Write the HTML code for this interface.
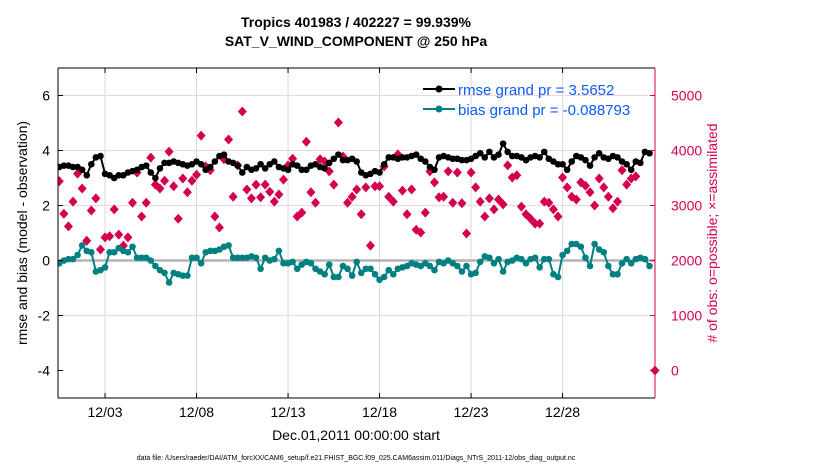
<!DOCTYPE html>
<html><head><meta charset="utf-8"><style>
body{margin:0;background:#fff;width:830px;height:470px;overflow:hidden;font-family:"Liberation Sans",sans-serif}
</style></head><body>
<svg id="c" width="830" height="470" xmlns="http://www.w3.org/2000/svg" font-family="Liberation Sans, sans-serif">
<text x="356" y="27" text-anchor="middle" font-size="14" font-weight="bold">Tropics 401983 / 402227 = 99.939%</text>
<text x="356" y="46" text-anchor="middle" font-size="14" font-weight="bold">SAT_V_WIND_COMPONENT @ 250 hPa</text>
<g id="grid"></g>
<g id="marks"></g>
<g id="axes"></g>
<text transform="translate(27,233) rotate(-90)" text-anchor="middle" font-size="14">rmse and bias (model - observation)</text>
<text transform="translate(717,233) rotate(-90)" text-anchor="middle" font-size="14" fill="#d4004f"># of obs: o=possible; ×=assimilated</text>
<text x="356" y="440" text-anchor="middle" font-size="14">Dec.01,2011 00:00:00 start</text>
<text x="356" y="460" text-anchor="middle" font-size="7">data file: /Users/raeder/DAI/ATM_forcXX/CAM6_setup/f.e21.FHIST_BGC.f09_025.CAM6assim.011/Diags_NTrS_2011-12/obs_diag_output.nc</text>
<g>
<line x1="423" y1="89" x2="455" y2="89" stroke="#000" stroke-width="2"/>
<circle cx="439" cy="89" r="3.5" fill="#000"/>
<text x="458" y="95" font-size="15" fill="#0a5cf5">rmse grand pr = 3.5652</text>
<line x1="423" y1="109" x2="455" y2="109" stroke="#008080" stroke-width="2"/>
<circle cx="439" cy="109" r="3.5" fill="#008080"/>
<text x="458" y="115" font-size="15" fill="#0a5cf5">bias grand pr = -0.088793</text>
</g>
</svg>
<script>
const rmse=[3.4,3.45,3.45,3.4,3.4,3.3,3.1,3.5,3.75,3.8,3.15,3.1,3.0,3.1,3.1,3.2,3.25,3.3,3.4,3.45,3.2,3.0,3.35,3.55,3.55,3.6,3.55,3.5,3.45,3.5,3.6,3.5,3.3,3.4,3.6,3.8,3.85,3.6,3.55,3.45,3.2,3.4,3.3,3.35,3.5,
3.35,3.5,3.6,3.4,3.35,3.3,3.5,3.45,3.3,3.3,3.45,3.5,3.4,3.35,3.55,3.7,3.85,3.65,3.65,3.7,3.6,3.2,3.1,3.15,3.25,3.2,3.5,3.75,3.75,3.7,3.75,3.75,3.8,3.85,3.7,3.6,3.4,3.3,3.75,3.8,3.75,3.7,3.7,3.65,
3.65,3.7,3.8,3.9,3.75,3.95,3.75,3.85,4.25,3.95,3.8,3.8,3.75,3.65,3.75,3.8,3.75,3.95,3.7,3.6,3.5,3.5,3.3,3.6,3.8,3.75,3.65,3.45,3.75,3.9,3.75,3.7,3.8,3.75,3.6,3.5,3.3,3.6,3.55,3.95,3.9];
const bias=[-0.1,0,0.05,0.05,0.2,0.55,0.35,0.3,-0.4,-0.35,-0.25,0.3,0.3,0.45,0.35,0.3,0.5,0.1,0.1,0.1,0,-0.2,-0.35,-0.45,-0.8,-0.45,-0.5,-0.55,-0.55,0.1,0.1,-0.1,0.3,0.35,0.35,0.4,0.5,0.55,0.1,0.1,0.1,0.1,0.15,0.1,-0.3,
0.1,0,0.05,0.35,-0.1,-0.1,-0.05,-0.3,-0.15,-0.05,-0.1,-0.3,-0.4,-0.5,-0.15,-0.6,-0.6,-0.2,-0.3,-0.55,-0.05,-0.45,-0.3,-0.3,-0.5,-0.7,-0.6,-0.35,-0.5,-0.3,-0.25,-0.2,-0.1,-0.15,-0.2,-0.1,-0.2,-0.35,-0.05,-0.1,0,-0.1,-0.2,-0.4,
-0.2,-0.5,-0.45,-0.05,0.15,0.1,-0.1,0.05,-0.4,-0.05,0,0.1,0.05,-0.1,0.05,0.1,-0.25,0.05,0.05,-0.5,-0.6,0.2,0.35,0.6,0.6,0.5,0.1,-0.2,0.6,0.4,0.3,-0.2,-0.5,-0.5,-0.1,0.05,-0.1,0.05,0.1,0.05,-0.2];
const obsUsed=[3440,2850,2620,3070,3580,3310,2360,2910,3130,2200,2420,2440,2930,2470,2270,2420,3050,3600,2800,3050,3870,3380,3310,3450,3980,3350,2760,3490,3240,3450,3560,4270,3710,3640,2800,2600,3840,4200,3160,3730,4710,3290,3130,3380,
3150,3380,3250,3070,3200,3470,3730,3850,2800,2870,4160,3240,3050,3840,3800,3620,3380,4510,3890,3050,3160,3290,2840,3330,2270,3350,3350,3710,3160,3070,3930,3270,2840,3290,2560,2510,2870,3620,3420,3150,3160,3620,3050,
3600,3040,2490,3600,3330,3070,2800,3130,2930,3110,3020,3730,3510,3550,2980,2840,2760,2670,2670,3070,3050,2930,2800,3510,3330,3160,3110,3420,3360,3240,3000,3490,3330,3160,2950,3070,3640,3380,3490,3530];
const leftTicks=[-4,-2,0,2,4,6];
const rightTicks=[0,1000,2000,3000,4000,5000];
const xTickDays=[2,7,12,17,22,27];
const xTickLabels=["12/03","12/08","12/13","12/18","12/23","12/28"];
const L=58,R=655,T=68,B=398;
const yL=v=>B-(v+5)/12*(B-T);
const yR=v=>B-(v+500)/6000*(B-T);
const xD=t=>L+(t+0.57)/(32.62)*(R-L);
const tOf=i=>-0.5+i*0.25;
const NS="http://www.w3.org/2000/svg";
function mk(p,tag,a){const e=document.createElementNS(NS,tag);for(const k in a)e.setAttribute(k,a[k]);p.appendChild(e);return e;}
const g=document.getElementById('grid'),m=document.getElementById('marks'),ax=document.getElementById('axes');
xTickDays.forEach((d,i)=>{const x=xD(d);
 const l=mk(g,'line',{x1:x,x2:x,y1:T,y2:B,stroke:'#d9d9d9','stroke-width':1});
 
 
 mk(ax,'line',{x1:x,x2:x,y1:B,y2:B-5,stroke:'#000'});
 mk(ax,'line',{x1:x,x2:x,y1:T,y2:T+5,stroke:'#000'});
 const t=mk(ax,'text',{x:x,y:B+19,'text-anchor':'middle','font-size':14});t.textContent=xTickLabels[i];
 
 });
rightTicks.forEach(v=>{const y=yR(v);
 if(v>0){const l=mk(g,'line',{x1:L,x2:R,y1:y,y2:y,stroke:'#f5d3de','stroke-width':1});
 
 }
 mk(ax,'line',{x1:R,x2:R-5,y1:y,y2:y,stroke:'#d4004f'});
 const t=mk(ax,'text',{x:R+16,y:y+5,'font-size':14,fill:'#d4004f'});t.textContent=v;
 
 });
leftTicks.forEach(v=>{const y=yL(v);
 mk(ax,'line',{x1:L,x2:L+5,y1:y,y2:y,stroke:'#000'});
 const t=mk(ax,'text',{x:L-8,y:y+5,'text-anchor':'end','font-size':14});t.textContent=v;
 
 });
const z=mk(g,'line',{x1:L,x2:R,y1:yL(0),y2:yL(0),stroke:'#b3b3b3','stroke-width':2.5});


const cp=mk(m,'clipPath',{id:'cl'});mk(cp,'rect',{x:L,y:T,width:R-L,height:B-T});
const mg=mk(m,'g',{'clip-path':'url(#cl)'});
obsUsed.forEach((v,i)=>{const x=xD(tOf(i)),y=yR(v);
 const d=mk(mg,'polygon',{points:`${x},${y-5} ${x+4.5},${y} ${x},${y+5} ${x-4.5},${y}`,fill:'#d4004f'});
 
 });
const od=mk(m,'polygon',{points:`${R},${yR(0)-5} ${R+4.5},${yR(0)} ${R},${yR(0)+5} ${R-4.5},${yR(0)}`,fill:'#d4004f'});


function series(arr,col,name){
 const p=mk(mg,'polyline',{points:arr.map((v,i)=>xD(tOf(i))+','+yL(v)).join(' '),fill:'none',stroke:col,'stroke-width':2});
 
 
 arr.forEach((v,i)=>{const c=mk(mg,'circle',{cx:xD(tOf(i)),cy:yL(v),r:3.3,fill:col});
 
 });}
series(bias,'#008080','bias');
series(rmse,'#000','rmse');
mk(ax,'line',{x1:L,x2:R,y1:T,y2:T,stroke:'#000'});
mk(ax,'line',{x1:L,x2:R,y1:B,y2:B,stroke:'#000'});
mk(ax,'line',{x1:L,x2:L,y1:T,y2:B,stroke:'#000'});
mk(ax,'line',{x1:R,x2:R,y1:T,y2:B,stroke:'#d4004f'});
</script>
</body></html>
